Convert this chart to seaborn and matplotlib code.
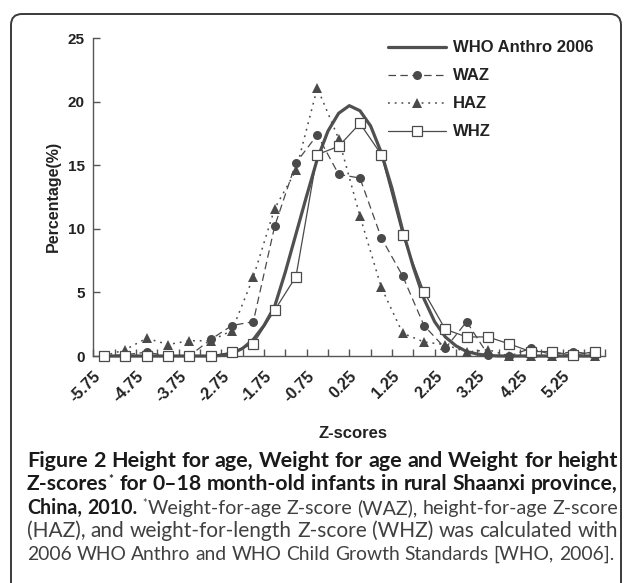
import numpy as np
import pandas as pd
import matplotlib
matplotlib.use("Agg")
import matplotlib.pyplot as plt
from matplotlib.patches import FancyBboxPatch
from matplotlib.transforms import IdentityTransform
from matplotlib.ticker import FixedLocator, MultipleLocator
import seaborn as sns

# ---------------- data ----------------
z_scores = [-5.75, -5.25, -4.75, -4.25, -3.75, -3.25, -2.75, -2.25, -1.75, -1.25,
            -0.75, -0.25, 0.25, 0.75, 1.25, 1.75, 2.25, 2.75, 3.25, 3.75,
            4.25, 4.75, 5.25, 5.75]
waz = [0.0, 0.1, 0.3, 0.0, 0.0, 1.3, 2.4, 2.7, 10.2, 15.2,
       17.4, 14.3, 14.0, 9.3, 6.3, 2.4, 0.6, 2.7, 0.1, 0.0,
       0.6, 0.1, 0.35, 0.1]
haz = [0.0, 0.5, 1.4, 0.9, 1.2, 1.2, 2.0, 6.2, 11.6, 14.6,
       21.1, 17.1, 11.0, 5.4, 1.8, 1.1, 0.9, 0.3, 0.5, 0.0,
       0.0, 0.0, 0.0, 0.0]
whz = [0.0, 0.0, 0.0, 0.0, 0.0, 0.0, 0.3, 0.95, 3.6, 6.25,
       15.85, 16.5, 18.3, 15.85, 9.5, 5.05, 2.1, 1.5, 1.5, 0.95,
       0.35, 0.35, 0.05, 0.35]
# WHO Anthro 2006 reference curve, read every 0.25 Z
who_z = [-5.75, -5.5, -5.25, -5.0, -4.75, -4.5, -4.25, -4.0, -3.75, -3.5,
         -3.25, -3.0, -2.75, -2.5, -2.25, -2.0, -1.75, -1.5, -1.25, -1.0,
         -0.75, -0.5, -0.25, 0.0, 0.25, 0.5, 0.75, 1.0, 1.25, 1.5,
         1.75, 2.0, 2.25, 2.5, 2.75, 3.0, 3.25, 3.5, 3.75, 4.0,
         4.25, 4.5, 4.75, 5.0, 5.25, 5.5, 5.75]
who = [0, 0, 0, 0, 0, 0, 0, 0, 0, 0,
       0, 0.05, 0.2, 0.6, 1.3, 2.4, 3.9, 6.6, 9.6, 12.6,
       15.5, 17.7, 19.1, 19.7, 19.3, 18.1, 16.0, 13.2, 9.9, 7.0,
       4.5, 2.7, 1.5, 0.8, 0.35, 0.15, 0.05, 0, 0, 0,
       0, 0, 0, 0, 0, 0, 0]
tick_labels = ["-5.75", "-4.75", "-3.75", "-2.75", "-1.75", "-0.75",
               "0.25", "1.25", "2.25", "3.25", "4.25", "5.25"]
y_ticks = [0, 5, 10, 15, 20, 25]

# ---------------- figure ----------------
sns.set_theme(style="white")
plt.rcParams["font.family"] = ["Liberation Sans", "DejaVu Sans"]

W, H = 630, 583
fig = plt.figure(figsize=(W / 100, H / 100), dpi=100)
fig.patch.set_facecolor("white")

ax_left, ax_right, ax_top, ax_bot = 93.3, 605.3, 38.3, 356.0
ax = fig.add_axes([ax_left / W, (H - ax_bot) / H, (ax_right - ax_left) / W, (ax_bot - ax_top) / H])
ax.set_facecolor("white")

col = "#4a4a4a"
df_who = pd.DataFrame({"z": who_z, "pct": who})
df = pd.DataFrame({"z": z_scores, "WAZ": waz, "HAZ": haz, "WHZ": whz})

sns.lineplot(data=df_who, x="z", y="pct", ax=ax, color="#505050", lw=2.3,
             label="WHO Anthro 2006", clip_on=False, zorder=3, solid_joinstyle="round")
sns.lineplot(data=df, x="z", y="WAZ", ax=ax, color=col, lw=0.9, dashes=False,
             linestyle=(0, (6, 3.5)), marker="o", markersize=6.5, markeredgewidth=0,
             markerfacecolor=col, label="WAZ", clip_on=False, zorder=4)
sns.lineplot(data=df, x="z", y="HAZ", ax=ax, color=col, lw=1.1, dashes=False,
             linestyle=(0, (1.2, 3.2)), marker="^", markersize=7.5, markeredgewidth=0,
             markerfacecolor=col, label="HAZ", clip_on=False, zorder=4)
sns.lineplot(data=df, x="z", y="WHZ", ax=ax, color=col, lw=0.9, dashes=False,
             marker="s", markersize=6.5, markeredgewidth=0.9, markeredgecolor=col,
             markerfacecolor="white", label="WHZ", clip_on=False, zorder=5)

ax.set_xlim(-6, 6)
ax.set_ylim(0, 25)
for s in ["top", "right"]:
    ax.spines[s].set_visible(False)
for s in ["left", "bottom"]:
    ax.spines[s].set_color("#555555")
    ax.spines[s].set_linewidth(1.0)

ax.yaxis.set_major_locator(FixedLocator(y_ticks))
ax.set_yticklabels([str(v) for v in y_ticks], fontsize=11, fontweight="bold", color="#222222")
ax.tick_params(axis="y", direction="in", length=5, width=1, color="#555555", pad=6, left=True)

label_pos = [float(t) for t in tick_labels]
ax.xaxis.set_major_locator(FixedLocator(label_pos))
ax.set_xticklabels(tick_labels, rotation=45, ha="right", fontsize=11.5,
                   fontweight="bold", color="#222222")
ax.xaxis.set_minor_locator(MultipleLocator(0.5))
ax.tick_params(axis="x", which="major", length=0, pad=9, bottom=True)
ax.tick_params(axis="x", which="minor", direction="in", length=5, width=1,
               color="#555555", bottom=True)

ax.set_xlabel("")
ax.set_ylabel("")
fig.text(353 / W, 1 - 433 / H, "Z-scores", ha="center", va="center",
         fontsize=12, fontweight="bold", color="#222222")
fig.text(53 / W, 1 - 196 / H, "Percentage(%)", ha="center", va="center", rotation=90,
         fontsize=11.5, fontweight="bold", color="#222222")

leg = ax.legend(loc="upper left", bbox_to_anchor=(388 / W, 1 - 40.5 / H),
                bbox_transform=fig.transFigure, frameon=False, borderpad=0,
                borderaxespad=0, handlelength=3.5, handletextpad=0.4,
                labelspacing=0.78, prop={"weight": "bold", "size": 12})
for t in leg.get_texts():
    t.set_color("#222222")

# ---------------- border ----------------
border = FancyBboxPatch((11, -30), 610, H - 14 + 30,
                        boxstyle="round,pad=0,rounding_size=11",
                        transform=IdentityTransform(), fill=False,
                        edgecolor="#3a3a3a", linewidth=1.4, zorder=0)
fig.patches.append(border)

# ---------------- caption (justified, word by word) ----------------
renderer = fig.canvas.get_renderer()
cap_font = ["Lato", "DejaVu Sans"]
bold_c = "#1a1a1a"
reg_c = "#404040"

def toks(text, weight, color, first_space=True):
    out = []
    for i, w in enumerate(text.split(" ")):
        out.append([w, weight, 1.0, 0, color, (i > 0) or first_space])
    return out

lines = [
    toks("Figure 2 Height for age, Weight for age and Weight for height", "bold", bold_c, False),
    toks("Z-scores", "bold", bold_c, False)
    + [["*", "bold", 0.55, 7, bold_c, False]]
    + toks("for 0–18 month-old infants in rural Shaanxi province,", "bold", bold_c, True),
    toks("China, 2010.", "bold", bold_c, False)
    + [["*", "normal", 0.55, 7, reg_c, True]]
    + toks("Weight-for-age Z-score (WAZ), height-for-age Z-score", "normal", reg_c, False),
    toks("(HAZ), and weight-for-length Z-score (WHZ) was calculated with", "normal", reg_c, False),
    toks("2006 WHO Anthro and WHO Child Growth Standards [WHO, 2006].", "normal", reg_c, False),
]
baselines = [467, 490.5, 514, 537, 560]
targets = [591, 591, 591, 591, None]
x0 = 27

def measure(s, weight, size):
    t = fig.text(0, 0, s, fontsize=size, fontweight=weight, family=cap_font)
    w = t.get_window_extent(renderer).width
    t.remove()
    return w

def space_w(fs):
    return measure("a a", "normal", fs) - measure("aa", "normal", fs)

def natural_width(line, fs):
    sp = space_w(fs)
    tot = 0
    for i, (s, wt, sf, dy, c, spb) in enumerate(line):
        tot += measure(s, wt, fs * sf) + (sp if spb else (1 if i > 0 else 0))
    return tot

FS_BASE = 12.0 * 591.0 / natural_width(lines[0], 12.0)

for line, yb, tgt in zip(lines, baselines, targets):
    fs = FS_BASE
    limit = tgt if tgt is not None else 588
    nat = natural_width(line, fs)
    if nat > limit:
        fs = fs * limit / nat
    widths = [measure(s, wt, fs * sf) for s, wt, sf, dy, c, spb in line]
    n_gap = sum(1 for tk in line if tk[5])
    n_tight = sum(1 for tk in line[1:] if not tk[5])
    gap = space_w(fs)
    if tgt is not None and n_gap > 0:
        gap = (tgt - sum(widths) - n_tight) / n_gap
    x = x0
    for i, ((s, wt, sf, dy, c, spb), w) in enumerate(zip(line, widths)):
        if spb:
            x += gap
        elif i > 0:
            x += 1
        fig.text(x / W, 1 - (yb - dy) / H, s, fontsize=fs * sf, fontweight=wt,
                 family=cap_font, ha="left", va="baseline", color=c)
        x += w

fig.savefig("out.png", dpi=100, facecolor="white")
